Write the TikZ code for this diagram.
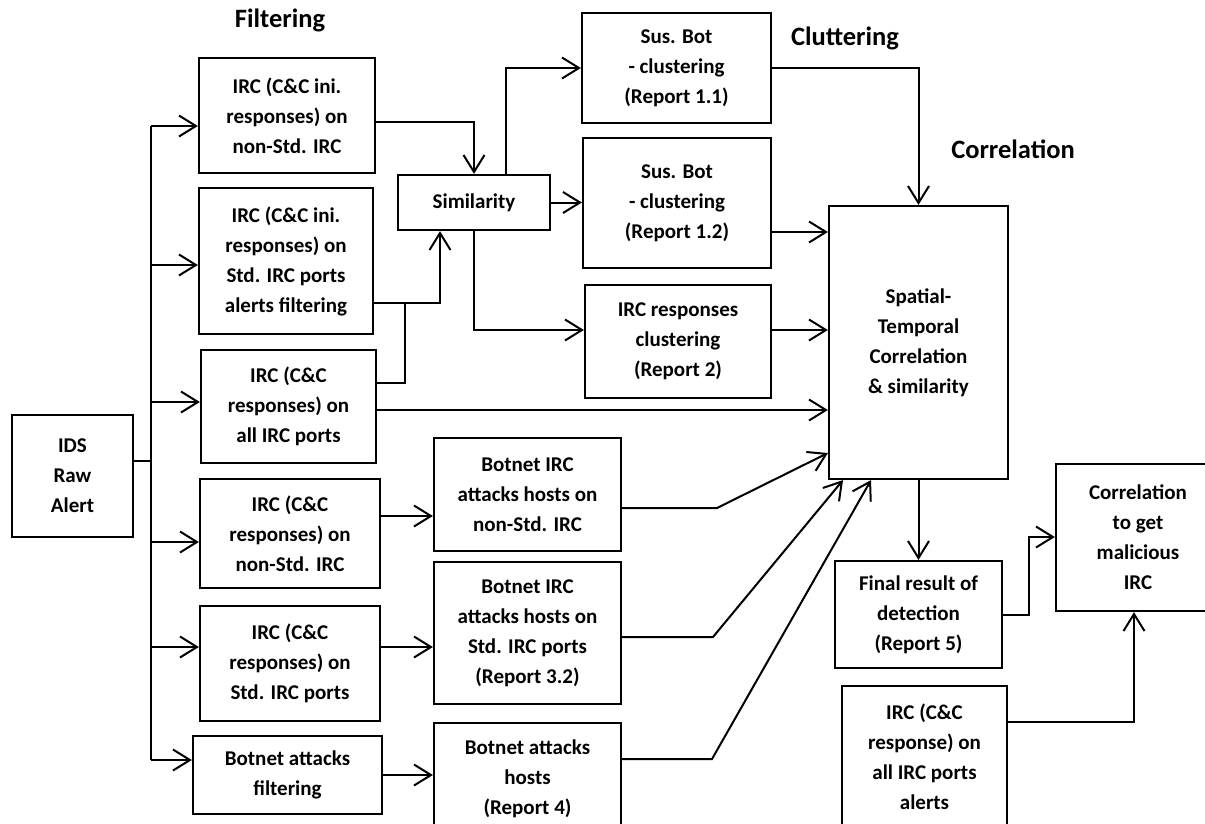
\documentclass[tikz,border=0pt]{standalone}
\usepackage{fontspec}
\setmainfont{Carlito}
\usepackage{tikz}
\usetikzlibrary{arrows.meta}
\tikzset{>={Straight Barb[length=17pt,width=21pt]}}
\tikzset{blk/.style={draw, line width=2.2pt, align=center, inner sep=0pt,
    font=\bfseries\fontsize{21}{30}\selectfont}}
\tikzset{sz/.style 2 args={minimum width=#1pt, minimum height=#2pt}}
\tikzset{ttl/.style={font=\bfseries\fontsize{26.5}{28}\selectfont}}

\begin{document}
\begin{tikzpicture}[x=1pt, y=-1pt, line width=2pt]
            \useasboundingbox (0,0) rectangle (1205,823);
            % stage titles
            \node[ttl] (tfilt) at (280,20) {Filtering};
            \node[ttl] (tclus) at (845,38) {Cluttering};
            \node[ttl] (tcorr) at (1013,149) {Correlation};
            % raw alerts and filters
            \node[blk, sz={121}{122}] (IDS) at (72.5,476) {IDS\\ Raw\\ Alert};
            \node[blk, sz={176}{115}] (F1) at (287,115.5) {IRC (C\&C ini.\\ responses) on\\ non-Std. IRC};
            \node[blk, sz={174}{146}] (F2) at (286,261) {IRC (C\&C ini.\\ responses) on\\ Std. IRC ports\\ alerts filtering};
            \node[blk, sz={175}{113}] (F3) at (288.5,406.5) {IRC (C\&C\\ responses) on\\ all IRC ports};
            \node[blk, sz={180}{109}] (F4) at (290,533.5) {IRC (C\&C\\ responses) on\\ non-Std. IRC};
            \node[blk, sz={180}{115}] (F5) at (290,663.5) {IRC (C\&C\\ responses) on\\ Std. IRC ports};
            \node[blk, sz={189}{78}] (F6) at (287.5,775) {Botnet attacks\\ filtering};
            % clustering
            \node[blk, sz={152}{55}] (Sim) at (474,202.5) {Similarity};
            \node[blk, sz={189}{110}] (C1) at (676.5,68) {Sus. Bot\\ - clustering\\ (Report 1.1)};
            \node[blk, sz={188}{130}] (C2) at (677,203) {Sus. Bot\\ - clustering\\ (Report 1.2)};
            \node[blk, sz={186}{113}] (C3) at (678,341.5) {IRC responses\\ clustering\\ (Report 2)};
            \node[blk, sz={187}{113}] (B1) at (527.5,494.5) {Botnet IRC\\ attacks hosts on\\ non-Std. IRC};
            \node[blk, sz={187}{142}] (B2) at (527.5,633) {Botnet IRC\\ attacks hosts on\\ Std. IRC ports\\ (Report 3.2)};
            \node[blk, sz={187}{112}] (B3) at (527.5,779) {Botnet attacks\\ hosts\\ (Report 4)};
            % correlation
            \node[blk, sz={179}{273}] (ST) at (918.5,342.5) {Spatial-\\ Temporal\\ Correlation\\ \& similarity};
            \node[blk, sz={167}{107}] (R5) at (918.5,614.5) {Final result of\\ detection\\ (Report 5)};
            \node[blk, sz={164}{147}] (CM) at (1138,537.5) {Correlation\\ to get\\ malicious\\ IRC};
            \node[blk, sz={165}{142}] (AL) at (924.5,757) {IRC (C\&C\\ response) on\\ all IRC ports\\ alerts};
            % fan out of the raw alerts
            \coordinate (trunktop) at (151,126);
            \coordinate (trunkbot) at (151,760);
            \draw (IDS.east |- 0,461) -- (151,461);
            \draw (trunktop) -- (trunkbot);
            \foreach \n/\y in {F1/126,F2/265,F3/402,F4/542,F5/647,F6/760}
                \draw[->] (151,\y) -- (\n.west |- 151,\y);
            % into similarity
            \draw[->] (F1.east |- 0,122) -| (Sim.north);
            \draw[->] (F2.east |- 0,303) -| (Sim.south -| 440,0);
            \draw (F3.east |- 0,383) -| (405,303);
            \draw[->] (F3.east |- 0,410) -- (ST.west |- 0,410);
            % out of similarity
            \draw[->] (Sim.north -| 506,0) |- (C1.west);
            \draw[->] (Sim.east) -- (Sim.east -| C2.west);
            \draw[->] (Sim.south) |- (C3.west |- 0,330);
            % clusters to correlation
            \draw[->] (C1.east) -| (ST.north);
            \draw[->] (C2.east |- 0,232) -- (ST.west |- 0,232);
            \draw[->] (C3.east |- 0,330) -- (ST.west |- 0,330);
            % botnet hosts
            \foreach \a/\b/\y in {F4/B1/516,F5/B2/647,F6/B3/775}
                \draw[->] (\a.east |- 0,\y) -- (\b.west |- 0,\y);
            \draw[->] (B1.east |- 0,508) -- (717,508) -- (ST.west |- 0,453);
            \draw[->] (B2.east |- 0,637) -- (713,637) -- (ST.south -| 843,0);
            \draw[->] (B3.east |- 0,759) -- (712,759) -- (ST.south -| 871,0);
            % final result
            \draw[->] (ST.south) -- (R5.north);
            \draw[->] (R5.east) -| (1029,537) -- (CM.west |- 0,537);
            \draw[->] (AL.east |- 0,722) -| (CM.south -| 1134,0);
        \end{tikzpicture}
\end{document}
